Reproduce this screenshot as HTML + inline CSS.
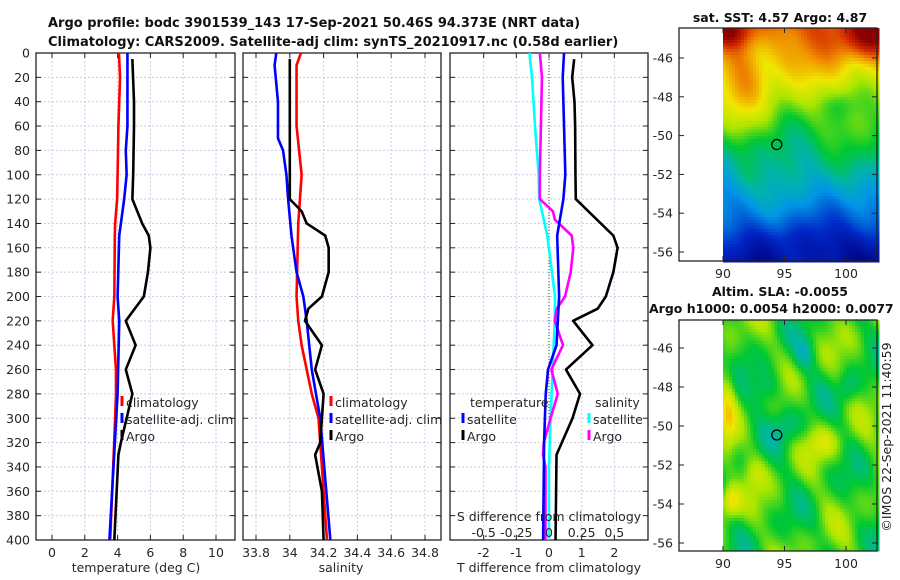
<!DOCTYPE html>
<html><head><meta charset="utf-8"><style>
body{margin:0;background:#fff;}
svg{display:block;font-family:"DejaVu Sans","Liberation Sans",sans-serif;}
</style></head><body>
<svg id="fig" width="900" height="580" viewBox="0 0 900 580">
<text x="48" y="27" font-size="13" font-weight="bold" fill="#111">Argo profile: bodc 3901539_143 17-Sep-2021 50.46S 94.373E (NRT data)</text>
<text x="48" y="46" font-size="13" font-weight="bold" fill="#111">Climatology: CARS2009. Satellite-adj clim: synTS_20210917.nc (0.58d earlier)</text>
<text x="780" y="22" font-size="12.5" font-weight="bold" text-anchor="middle" fill="#111">sat. SST: 4.57 Argo: 4.87</text>
<text x="780" y="296" font-size="12.5" font-weight="bold" text-anchor="middle" fill="#111">Altim. SLA: -0.0055</text>
<text x="649" y="313" font-size="12.5" font-weight="bold" fill="#111">Argo h1000: 0.0054 h2000: 0.0077</text>
<text transform="translate(891,437) rotate(-90)" font-size="12.5" text-anchor="middle" fill="#222">©IMOS 22-Sep-2021 11:40:59</text>
<g id="plots"></g>
</svg>
<script>
const tDepth=[0,20,60,100,120,140,150,200,220,260,280,300,400];
const tClim=[4.08,4.15,4.05,4.0,3.97,3.85,3.83,3.8,3.7,3.9,3.9,3.85,3.55];
const sDepthSat=[0,60,80,100,120,140,150,200,220,280,400];
const tSat=[4.6,4.6,4.5,4.55,4.4,4.2,4.1,4.0,4.1,4.0,3.5];
const aDepth=[5,40,60,100,120,140,150,160,180,200,220,240,260,280,320,330,400];
const tArgo=[4.9,5.0,5.0,4.95,4.9,5.5,5.9,6.0,5.85,5.6,4.5,5.1,4.5,4.9,4.2,4.05,3.8];
const sClimDepth=[0,10,60,100,120,140,200,220,240,280,300,360,400];
const sClim=[34.066,34.04,34.04,34.07,34.06,34.05,34.04,34.05,34.07,34.13,34.17,34.2,34.22];
const sSatDepth=[0,10,40,70,80,100,120,150,180,200,220,260,300,400];
const sSat=[33.92,33.91,33.93,33.93,33.96,33.98,33.99,34.01,34.04,34.08,34.1,34.13,34.18,34.24];
const sArgoDepth=[5,100,120,130,140,150,160,180,200,210,220,240,260,280,300,320,330,360,400];
const sArgo=[34.0,34.0,34.0,34.07,34.1,34.21,34.23,34.23,34.19,34.11,34.09,34.19,34.15,34.2,34.19,34.18,34.15,34.19,34.2];
const dTSatDepth=[0,20,60,100,120,150,200,220,240,260,280,320,400];
const dTSat=[0.46,0.42,0.46,0.5,0.44,0.25,0.31,0.27,0.23,-0.03,-0.1,-0.15,-0.18];
const dTArgoDepth=[5,20,40,60,100,120,150,160,180,200,210,220,240,260,280,300,330,400];
const dTArgo=[0.77,0.71,0.78,0.8,0.81,0.82,1.97,2.1,1.97,1.74,1.49,0.74,1.33,0.52,0.95,0.72,0.23,0.2];
const dSArgoDepth=[0,20,100,120,130,137,150,160,180,200,210,220,240,260,280,300,320,330,340,400];
const dSArgo=[-0.07,-0.054,-0.07,-0.07,0.03,0.046,0.174,0.186,0.166,0.123,0.06,0.044,0.107,0.018,0.067,0.012,-0.04,-0.046,-0.027,-0.027];
const dSSatDepth=[0,20,60,100,120,150,200,220,260,300,340,400];
const dSSat=[-0.15,-0.13,-0.107,-0.079,-0.075,-0.013,0.046,0.044,0.028,0.012,0,0];
const depthTicks=[0,20,40,60,80,100,120,140,160,180,200,220,240,260,280,300,320,340,360,380,400];
const tTicks=[0,2,4,6,8,10];
const sTicks=[33.8,34,34.2,34.4,34.6,34.8];
const dTTicks=[-2,-1,0,1,2];
const dSTicks=[-0.5,-0.25,0,0.25,0.5];
const dSTickLabels=["-0.5","-0.25","0","0.25","0.5"];
const lonTicks=[90,95,100];
const latTicks=[-46,-48,-50,-52,-54,-56];
const argoLon=94.373, argoLat=-50.46;

const NS="http://www.w3.org/2000/svg";
const G=document.getElementById('plots');
function mk(tag,attrs,parent){const e=document.createElementNS(NS,tag);for(const k in attrs)e.setAttribute(k,attrs[k]);(parent||G).appendChild(e);return e;}
const Y0=53,Y1=540;
const yD=d=>Y0+(d/400)*(Y1-Y0);
function lin(d0,d1,p0,p1){return v=>p0+(v-d0)/(d1-d0)*(p1-p0);}
const FS=12.5;

function panel(name,x0,x1,xs,ticks,labels,showY){
  const g=mk('g',{});
  
  
  ticks.forEach(t=>{const x=xs(t);mk('line',{x1:x,x2:x,y1:Y0,y2:Y1,stroke:'#c8cce8','stroke-width':1,'stroke-dasharray':'2,2'},g);
    mk('line',{x1:x,x2:x,y1:Y1,y2:Y1-5,stroke:'#222'},g);mk('line',{x1:x,x2:x,y1:Y0,y2:Y0+5,stroke:'#222'},g);});
  depthTicks.forEach(d=>{const y=yD(d);mk('line',{x1:x0,x2:x1,y1:y,y2:y,stroke:'#c8cce8','stroke-width':1,'stroke-dasharray':'2,2'},g);
    mk('line',{x1:x0,x2:x0+5,y1:y,y2:y,stroke:'#222'},g);mk('line',{x1:x1,x2:x1-5,y1:y,y2:y,stroke:'#222'},g);
    if(showY){const t=mk('text',{x:x0-6,y:y+4.5,'font-size':FS,'text-anchor':'end',fill:'#262626'},g);t.textContent=d;}});
  mk('rect',{x:x0,y:Y0,width:x1-x0,height:Y1-Y0,fill:'none',stroke:'#222','stroke-width':1.3},g);
  if(labels){ticks.forEach((t,i)=>{const tx=mk('text',{x:xs(t),y:Y1+17,'font-size':FS,'text-anchor':'middle',fill:'#262626'},g);tx.textContent=labels[i];});}
  return g;
}
function series(g,name,xs,vals,depths,color){
  const p=mk('polyline',{points:vals.map((v,i)=>xs(v)+','+yD(depths[i])).join(' '),fill:'none',stroke:color,'stroke-width':2.6,'stroke-linejoin':'round'},g);
  
  
}
function txt(g,x,y,s,name,anchor,size){const t=mk('text',{x:x,y:y,'font-size':size||FS,fill:'#262626','text-anchor':anchor||'start'},g);t.textContent=s;
  
  return t;}
function legItem(g,x,y,color,label,name){
  const it=mk('g',{},g);
  
  
  mk('line',{x1:x,x2:x,y1:y-11,y2:y-1,stroke:color,'stroke-width':3},it);
  const t=mk('text',{x:x+4,y:y,'font-size':FS,fill:'#262626'},it);t.textContent=label;
}

const xT=lin(0,10,52,216);
const p1=panel('temperature-panel',36,235,xT,tTicks,tTicks.map(String),true);
series(p1,'temperature-climatology-line',xT,tClim,tDepth,'#ff0000');
series(p1,'temperature-satellite-line',xT,tSat,sDepthSat,'#0000ff');
series(p1,'temperature-argo-line',xT,tArgo,aDepth,'#000000');
txt(p1,136,572,'temperature (deg C)','temperature-x-axis-title','middle');
legItem(p1,122,407,'#ff0000','climatology','legend-climatology');
legItem(p1,122,424,'#0000ff','satellite-adj. clim','legend-satellite-adj');
legItem(p1,122,441,'#000000','Argo','legend-argo');

const xS=lin(33.8,34.8,256,425);
const p2=panel('salinity-panel',243,441,xS,sTicks,sTicks.map(String),false);
series(p2,'salinity-climatology-line',xS,sClim,sClimDepth,'#ff0000');
series(p2,'salinity-satellite-line',xS,sSat,sSatDepth,'#0000ff');
series(p2,'salinity-argo-line',xS,sArgo,sArgoDepth,'#000000');
txt(p2,341,572,'salinity','salinity-x-axis-title','middle');
legItem(p2,331,407,'#ff0000','climatology','legend-s-climatology');
legItem(p2,331,424,'#0000ff','satellite-adj. clim','legend-s-satellite-adj');
legItem(p2,331,441,'#000000','Argo','legend-s-argo');

const xDT=lin(-3,3,451,647);
const xDS=v=>xDT(v*4);
const p3=panel('difference-panel',450,648,xDT,dTTicks,dTTicks.map(String),false);
mk('line',{x1:xDT(0),x2:xDT(0),y1:Y0,y2:Y1,stroke:'#444','stroke-width':1,'stroke-dasharray':'1,2'},p3);
series(p3,'s-diff-satellite-line',xDS,dSSat,dSSatDepth,'#00ffff');
series(p3,'s-diff-argo-line',xDS,dSArgo,dSArgoDepth,'#ff00ff');
series(p3,'t-diff-satellite-line',xDT,dTSat,dTSatDepth,'#0000ff');
series(p3,'t-diff-argo-line',xDT,dTArgo,dTArgoDepth,'#000000');
txt(p3,549,572,'T difference from climatology','t-diff-x-axis-title','middle');
txt(p3,549,521,'S difference from climatology','s-diff-axis-title','middle');
dSTicks.forEach((t,i)=>{txt(p3,xDS(t),537,dSTickLabels[i],'s-diff-tick','middle');});
txt(p3,470,407,'temperature','legend-temperature-header');
txt(p3,595,407,'salinity','legend-salinity-header');
legItem(p3,463,424,'#0000ff','satellite','legend-t-satellite');
legItem(p3,463,441,'#000000','Argo','legend-t-argo');
legItem(p3,589,424,'#00ffff','satellite','legend-s-satellite');
legItem(p3,589,441,'#ff00ff','Argo','legend-s-argo-diff');

const cmapStops=[[0,0,0,130],[0.15,0,40,200],[0.3,0,150,230],[0.4,0,180,170],[0.5,0,200,50],[0.6,170,230,0],[0.7,240,230,0],[0.8,240,140,0],[0.9,210,40,0],[1,140,0,0]];
function cmap(v){v=Math.max(0,Math.min(1,v));
  for(let i=1;i<cmapStops.length;i++){const a=cmapStops[i-1],b=cmapStops[i];if(v<=b[0]){const f=(v-a[0])/(b[0]-a[0]);
    return 'rgb('+[1,2,3].map(k=>Math.round(a[k]+(b[k]-a[k])*f)).join(',')+')';}}
  return 'rgb(140,0,0)';}
function mapPanel(name,fx0,fx1,fy0,fy1,latA,latB,yA,yB,field,cell){
  const g=mk('g',{});
  
  
  const xL=lin(90,100,723,846), yL=lin(latA,latB,yA,yB);
  const img=mk('g',{},g);
  for(let y=fy0;y<fy1;y+=cell){for(let x=723;x<fx1;x+=cell){
    const lon=90+(x-723)/12.3, lat=latA+(y-yA)/((yB-yA)/(latB-latA));
    mk('rect',{x:x,y:y,width:cell+0.5,height:cell+0.5,fill:cmap(field(lon,lat))},img);}}
  lonTicks.forEach(t=>{const x=xL(t);mk('line',{x1:x,x2:x,y1:fy1,y2:fy1-5,stroke:'#222'},g);mk('line',{x1:x,x2:x,y1:fy0,y2:fy0+5,stroke:'#222'},g);
    const tx=mk('text',{x:x,y:fy1+17,'font-size':FS,'text-anchor':'middle',fill:'#262626'},g);tx.textContent=t;});
  latTicks.forEach(t=>{const y=yL(t);mk('line',{x1:fx0,x2:fx0+5,y1:y,y2:y,stroke:'#222'},g);mk('line',{x1:fx1,x2:fx1-5,y1:y,y2:y,stroke:'#222'},g);
    const tx=mk('text',{x:fx0-6,y:y+4.5,'font-size':FS,'text-anchor':'end',fill:'#262626'},g);tx.textContent=t;});
  mk('rect',{x:fx0,y:fy0,width:fx1-fx0,height:fy1-fy0,fill:'none',stroke:'#222','stroke-width':1.3},g);
  const c=mk('circle',{cx:xL(argoLon),cy:yL(argoLat),r:5,fill:'none',stroke:'#000','stroke-width':1.3},g);
  
  
}
function bump(lon,lat,cx,cy,rx,ry){return Math.exp(-((lon-cx)*(lon-cx)/(rx*rx)+(lat-cy)*(lat-cy)/(ry*ry)));}
function sst(lon,lat){
  let v=0.8-(-lat-45)*0.06;
  v+=0.03*Math.sin(lon*0.9+lat*0.5)+0.025*Math.sin(lon*0.45-lat*1.1+1.3)+0.02*Math.sin(lon*1.7+lat*1.3+0.7);
  v+=0.1*bump(lon,lat,91.5,-47.5,1.8,2.2);
  v+=0.18*bump(lon,lat,102,-44.8,3,1.2)+0.15*bump(lon,lat,90.5,-44.6,2,0.8);
  v-=0.07*bump(lon,lat,99.5,-48.3,1.5,0.8);
  v-=0.12*bump(lon,lat,102,-56,2.5,1.5);
  v+=0.06*bump(lon,lat,91.5,-52,1.3,1);
  v-=0.05*bump(lon,lat,95,-55.5,5,1.2);
  return v;}
function sla(lon,lat){
  let v=0.53+0.045*Math.sin(lon*1.1+lat*0.7)+0.04*Math.sin(lon*0.63-lat*1.37+2)+0.03*Math.sin(lon*1.9+lat*1.7+1);
  v+=0.18*bump(lon,lat,90.5,-53.8,0.8,0.8)+0.12*bump(lon,lat,90.3,-49,0.7,2.5);
  v-=0.1*bump(lon,lat,93.5,-48,1.2,1)+0.1*bump(lon,lat,96.5,-46.2,0.8,0.8)+0.08*bump(lon,lat,95,-50,1.2,0.9)+0.08*bump(lon,lat,100,-48,0.8,0.8);
  v+=0.1*bump(lon,lat,98,-50.8,1.3,0.8)+0.08*bump(lon,lat,92.5,-52.3,0.9,0.8);
  return v;}
mapPanel('sst-map',679,877,28,261,-46,-56,58,252,sst,3);
mapPanel('sla-map',679,877,320,551,-46,-56,348,543,sla,3);
</script>
</body></html>
